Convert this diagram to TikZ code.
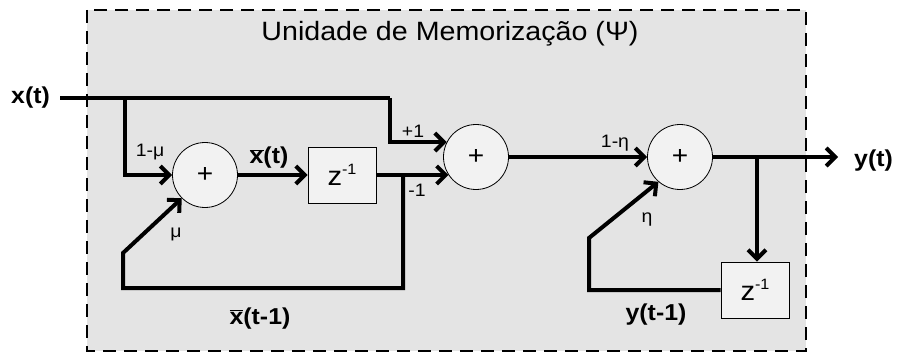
\documentclass[tikz,border=0pt]{standalone}
\usepackage{fontspec}
\setmainfont{Liberation Sans}[FakeStretch=1.08]
\usetikzlibrary{arrows.meta}
\definecolor{bg}{HTML}{E4E4E4}
\definecolor{nodefill}{HTML}{F2F2F2}
\newcommand\xbar{\ensuremath{\overline{\mbox{x}}}}
\newcommand\fs[1]{\fontsize{#1}{#1}\selectfont}
\newcommand\zinv{z\raisebox{11pt}{\fs{15}-1}}
\begin{document}
\begin{tikzpicture}[x=1pt,y=-1pt,
  sig/.style={line width=4pt},
  arr/.style={sig,-{Straight Barb[length=9pt,width=18pt]}},
  sumnode/.style={circle,draw,line width=0.8pt,fill=nodefill,minimum size=65pt,inner sep=0pt,font=\fs{26}},
  delaynode/.style={rectangle,draw,line width=0.8pt,fill=nodefill,minimum width=68pt,minimum height=56pt,inner sep=0pt,font=\fs{27}},
  biglabel/.style={font=\fs{23}\bfseries,inner sep=0pt},
  smalllabel/.style={font=\fs{18},inner sep=0pt},
]
\useasboundingbox (0,0) rectangle (898,353);
\path[fill=bg,draw,line width=2.5pt,dash pattern=on 13pt off 8pt] (87,10) rectangle (806,351);
\node[font=\fs{26.5},anchor=base] (title) at (450,41) {Unidade de Memorização (Ψ)};

\node[sumnode] (s1) at (205,175) {+};
\node[delaynode] (d1) at (342,175) {\zinv};
\node[sumnode] (s2) at (476,157) {+};
\node[sumnode] (s3) at (680,157) {+};
\node[delaynode] (d2) at (755,290) {\zinv};

\node[biglabel,anchor=base west] (xin) at (11,104) {x(t)};
\node[biglabel,anchor=base west] (yout) at (854,166) {y(t)};

\node[smalllabel,anchor=base] (lmu1) at (150,157) {1-μ};
\node[biglabel,anchor=base] (lxt) at (269,164) {\xbar(t)};
\node[smalllabel,anchor=base] (lp1) at (413,137) {+1};
\node[smalllabel,anchor=base] (lm1) at (417,196) {-1};
\node[smalllabel,anchor=base] (lmu) at (176,237) {μ};
\node[biglabel,anchor=base] (lxt1) at (260,324) {\xbar(t-1)};
\node[smalllabel,anchor=base] (leta1) at (615,147) {1-η};
\node[smalllabel,anchor=base] (leta) at (647,222) {η};
\node[biglabel,anchor=base] (lyt1) at (656,320) {y(t-1)};

\coordinate (jx) at (125,98);
\coordinate (jtop) at (390,98);
\coordinate (jb) at (403,175);
\coordinate (jy) at (757,157);

\draw[sig,shorten <=10pt] (xin.east |- jx) -- (jtop);
\draw[arr] (jtop) |- (s2.153);
\draw[arr] (jx) |- (s1.west);
\draw[arr] (s1.east) -- (d1.west);
\draw[arr] (d1.east) -- (d1.east -| s2.213);
\draw[arr] (jb) -- (403,288) -- (123,288) -- (123,253) -- (s1.225);
\draw[arr] (s2.east) -- (s3.west);
\draw[arr,shorten >=16pt] (s3.east) -- (s3.east -| yout.west);
\draw[arr] (jy) -- (jy |- d2.north);
\draw[arr] (d2.west) -- (589,290) -- (589,238) -- (s3.229);
\end{tikzpicture}
\end{document}
